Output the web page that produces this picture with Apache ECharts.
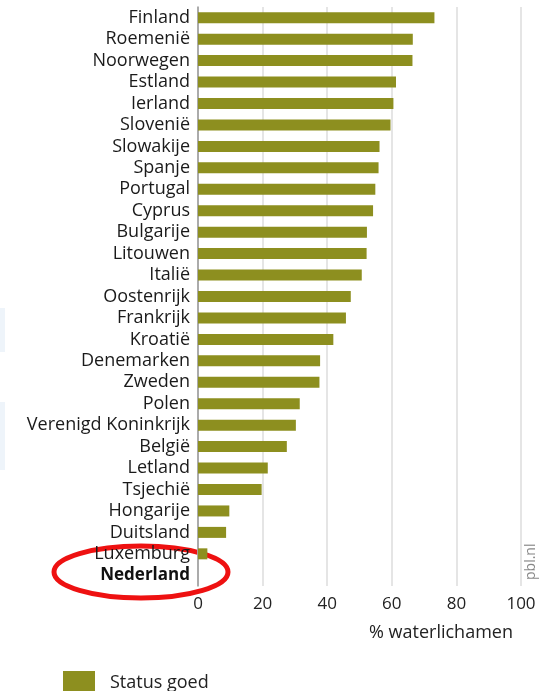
<!DOCTYPE html>
<html><head><meta charset="utf-8">
<script src="https://cdn.jsdelivr.net/npm/echarts@6/dist/echarts.min.js"></script>
<style>html,body{margin:0;padding:0;background:#fff}#c{width:541px;height:691px}</style>
</head><body><div id="c"></div>
<script>
var categories = ['Finland','Roemenië','Noorwegen','Estland','Ierland','Slovenië','Slowakije','Spanje','Portugal','Cyprus','Bulgarije','Litouwen','Italië','Oostenrijk','Frankrijk','Kroatië','Denemarken','Zweden','Polen','Verenigd Koninkrijk','België','Letland','Tsjechië','Hongarije','Duitsland','Luxemburg','Nederland'];
var statusGoed = [73.2,66.5,66.4,61.3,60.5,59.6,56.2,55.9,54.9,54.2,52.3,52.2,50.7,47.3,45.8,41.9,37.8,37.6,31.5,30.3,27.5,21.6,19.7,9.7,8.7,2.9,0];
var xTicks = [0,20,40,60,80,100];

var chart = echarts.init(document.getElementById('c'));
var FONT = '"Open Sans", "Noto Sans", sans-serif';
chart.setOption({
  animation: false,
  textStyle: {fontFamily: FONT},
  grid: {left: 198, right: 20, top: 7, bottom: 105, containLabel: false},
  legend: {
    data: ['Status goed'], left: 58, top: 666, icon: 'rect', itemWidth: 32, itemHeight: 23, itemGap: 10,
    textStyle: {fontSize: 18, color: '#222', fontFamily: FONT, padding: [0,0,0,10]}
  },
  xAxis: {
    type: 'value', min: 0, max: 100, interval: 20,
    axisLine: {show: false}, axisTick: {show: false},
    splitLine: {show: true, lineStyle: {color: '#dcdcdc', width: 1.5}},
    axisLabel: {fontSize: 17, color: '#222', margin: 10, fontFamily: FONT,
      formatter: function(v){ return xTicks.indexOf(v) >= 0 ? String(v) : ''; }}
  },
  yAxis: {
    type: 'category', data: categories, inverse: true,
    axisLine: {show: true, lineStyle: {color: '#999', width: 1.5}},
    axisTick: {show: false},
    axisLabel: {interval: 0, hideOverlap: false, fontSize: 18, lineHeight: 20, color: '#1a1a1a', margin: 8, fontFamily: FONT,
      formatter: function(v){ return v === 'Nederland' ? '{b|' + v + '}' : v; },
      rich: {b: {fontWeight: 'bold', fontSize: 17, lineHeight: 20, color: '#111', fontFamily: FONT}}}
  },
  series: [{
    name: 'Status goed', type: 'bar', data: statusGoed, barWidth: 11,
    itemStyle: {color: '#8d8f1f'}
  }],
  graphic: [
    {type: 'text', left: 369, top: 624, style: {text: '% waterlichamen', fontSize: 18, fill: '#222', fontFamily: FONT}},
    {type: 'text', x: 538, y: 580, rotation: Math.PI/2, style: {text: 'pbl.nl', fontSize: 14, fill: '#888', fontFamily: FONT, align: 'left', verticalAlign: 'bottom'}},
    {type: 'ellipse', shape: {cx: 141, cy: 572, rx: 87, ry: 26}, style: {fill: 'none', stroke: '#ee1111', lineWidth: 5}},
    {type: 'rect', shape: {x: 0, y: 308, width: 5, height: 44}, style: {fill: '#eef4fa'}},
    {type: 'rect', shape: {x: 0, y: 402, width: 5, height: 68}, style: {fill: '#eef4fa'}}
  ]
});
</script></body></html>
